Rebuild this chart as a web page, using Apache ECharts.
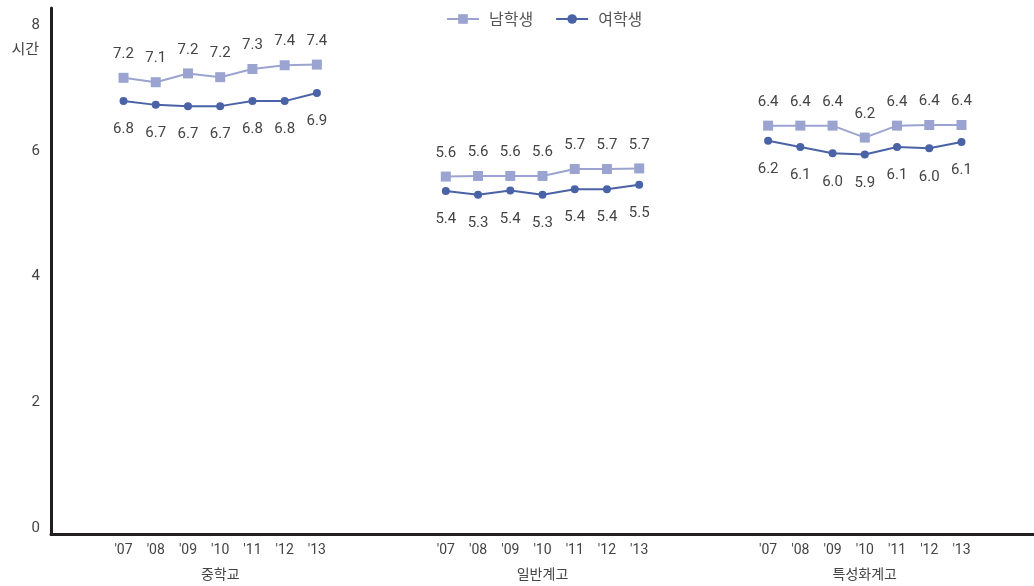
<!DOCTYPE html>
<html>
<head>
<meta charset="utf-8">
<script src="https://cdn.jsdelivr.net/npm/echarts@6/dist/echarts.min.js"></script>
<style>
  html, body { margin: 0; padding: 0; background: #fff; }
  #chart { width: 1034px; height: 586px; }
</style>
</head>
<body>
<div id="chart"></div>
<script>
// School levels and survey years
const groups = ['중학교', '일반계고', '특성화계고'];
const years = ["'07", "'08", "'09", "'10", "'11", "'12", "'13"];

// Average hours per day, by school level (7 years each)
const boys = [
  [7.16, 7.09, 7.23, 7.17, 7.30, 7.36, 7.37],
  [5.59, 5.60, 5.60, 5.60, 5.71, 5.71, 5.72],
  [6.40, 6.40, 6.40, 6.21, 6.40, 6.41, 6.41]
];
const girls = [
  [6.79, 6.73, 6.71, 6.71, 6.79, 6.79, 6.92],
  [5.36, 5.30, 5.37, 5.30, 5.39, 5.39, 5.46],
  [6.16, 6.06, 5.96, 5.94, 6.06, 6.04, 6.14]
];

const yTicks = [0, 2, 4, 6, 8];
const seriesNames = ['남학생', '여학생'];

// Each group occupies 7 slots, followed by 3 empty slots
const GROUP_STRIDE = 10;
const xPos = (g, i) => g * GROUP_STRIDE + i;

function toPoints(rows) {
  const pts = [];
  rows.forEach((row, g) => {
    row.forEach((v, i) => pts.push([xPos(g, i), v]));
    if (g < rows.length - 1) pts.push([xPos(g, 7), null]); // break the line between groups
  });
  return pts;
}

const yearTicks = [];
const yearLabelMap = {};
groups.forEach((_, g) => years.forEach((y, i) => {
  yearTicks.push(xPos(g, i));
  yearLabelMap[xPos(g, i)] = y;
}));
const groupCenters = groups.map((_, g) => xPos(g, 3));
const groupLabelMap = {};
groups.forEach((name, g) => { groupLabelMap[xPos(g, 3)] = name; });

const numFont = 'Roboto, "Noto Sans", sans-serif';
const krFont = '"Noto Sans CJK KR", "Noto Sans", sans-serif';
const narrowFont = '"Liberation Sans Narrow", "Roboto", sans-serif';

const valueLabel = p => p.value[1] == null ? '' : p.value[1].toFixed(1);

const chart = echarts.init(document.getElementById('chart'));
chart.setOption({
  animation: false,
  backgroundColor: '#fff',
  legend: {
    top: 6,
    left: 441,
    itemWidth: 32,
    itemHeight: 12,
    itemGap: 22,
    textStyle: { fontFamily: krFont, fontSize: 16, color: '#555', padding: [0, 0, 0, 5] },
    data: seriesNames
  },
  grid: { left: 51, right: 0, top: 8, bottom: 51.5 },
  xAxis: [
    {
      type: 'value',
      min: -2.25,
      max: 28.25,
      splitLine: { show: false },
      axisLine: { show: true, onZero: false, lineStyle: { color: '#231f20', width: 3 } },
      axisTick: { show: false },
      axisLabel: {
        customValues: yearTicks,
        margin: 9,
        fontFamily: narrowFont,
        fontSize: 14,
        color: '#444',
        formatter: v => yearLabelMap[v] || ''
      }
    },
    {
      type: 'value',
      position: 'bottom',
      min: -2.25,
      max: 28.25,
      splitLine: { show: false },
      axisLine: { show: false, onZero: false },
      axisTick: { show: false },
      axisLabel: {
        customValues: groupCenters,
        margin: 32,
        fontFamily: krFont,
        fontSize: 14,
        color: '#444',
        formatter: v => groupLabelMap[v] || ''
      }
    }
  ],
  yAxis: {
    type: 'value',
    min: -0.1,
    max: 8.27,
    name: '시간',
    nameLocation: 'end',
    nameGap: -40,
    nameTextStyle: {
      fontFamily: krFont,
      fontSize: 15,
      color: '#444',
      align: 'right',
      verticalAlign: 'middle',
      padding: [0, 12, 0, 0]
    },
    splitLine: { show: false },
    axisLine: { show: true, onZero: false, lineStyle: { color: '#231f20', width: 3 } },
    axisTick: { show: false },
    axisLabel: {
      customValues: yTicks,
      margin: 11,
      fontFamily: numFont,
      fontSize: 15,
      color: '#444'
    }
  },
  series: [
    {
      name: seriesNames[0],
      type: 'line',
      xAxisIndex: 0,
      data: toPoints(boys),
      connectNulls: false,
      symbol: 'rect',
      symbolSize: 10,
      color: '#9ba4d0',
      lineStyle: { width: 2, color: '#9ba4d0' },
      itemStyle: { color: '#9ba4d0' },
      label: {
        show: true,
        position: 'top',
        distance: 11,
        fontFamily: numFont,
        fontSize: 15,
        color: '#444',
        formatter: valueLabel
      }
    },
    {
      name: seriesNames[1],
      type: 'line',
      xAxisIndex: 0,
      data: toPoints(girls),
      connectNulls: false,
      symbol: 'circle',
      symbolSize: 8,
      color: '#4a62a6',
      lineStyle: { width: 2, color: '#4a62a6' },
      itemStyle: { color: '#4a62a6' },
      label: {
        show: true,
        position: 'bottom',
        distance: 17,
        fontFamily: numFont,
        fontSize: 15,
        color: '#444',
        formatter: valueLabel
      }
    }
  ]
});
</script>
</body>
</html>
